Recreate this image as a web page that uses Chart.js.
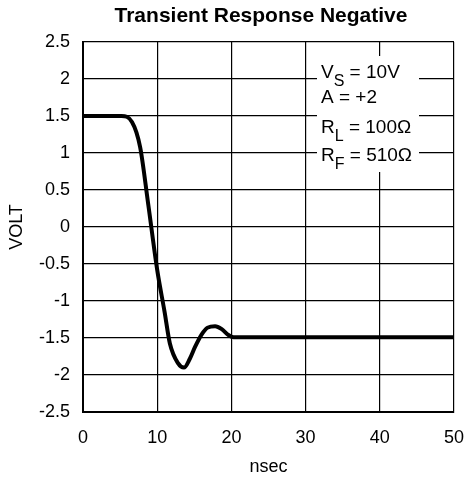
<!DOCTYPE html>
<html>
<head>
<meta charset="utf-8">
<script src="https://cdn.jsdelivr.net/npm/chart.js@4.4.1/dist/chart.umd.min.js"></script>
<style>
  html, body { margin: 0; padding: 0; background: #fff; }
  #wrap { width: 464px; height: 479px; position: relative; }
</style>
</head>
<body>
<div id="wrap"><canvas id="chart" width="464" height="479"></canvas></div>
<script>
// values
const nsec = [0, 5.2, 6.6, 7.7, 8.8, 10.0, 11.0, 11.7, 12.8, 13.6, 14.4, 15.1, 16.0, 16.8, 17.8, 18.7, 19.6, 20.3, 30, 40, 50];
const volt = [1.5, 1.5, 1.42, 1.08, 0.3, -0.58, -1.15, -1.57, -1.84, -1.9, -1.78, -1.62, -1.45, -1.36, -1.34, -1.38, -1.46, -1.49, -1.49, -1.49, -1.49];
const yTicks = [2.5, 2, 1.5, 1, 0.5, 0, -0.5, -1, -1.5, -2, -2.5];
const xTicks = [0, 10, 20, 30, 40, 50];

const chartTitle = "Transient Response Negative";
const noteLines = [
  ["V", "S", " = 10V"],
  ["A = +2", "", ""],
  ["R", "L", " = 100\u03A9"],
  ["R", "F", " = 510\u03A9"]
];

const FONT = "'Liberation Sans', Arial, sans-serif";

// white label box with the test conditions, plus the title
const notePlugin = {
  id: "note",
  afterDatasetsDraw(chart) {
    const ctx = chart.ctx;
    ctx.save();
    ctx.fillStyle = "#fff";
    ctx.fillRect(317, 56, 102, 116);
    ctx.fillStyle = "#000";
    ctx.textBaseline = "alphabetic";
    const baselines = [78, 103, 133, 161];
    noteLines.forEach((parts, i) => {
      let x = 321;
      const y = baselines[i];
      ctx.font = "19px " + FONT;
      ctx.fillText(parts[0], x, y);
      x += ctx.measureText(parts[0]).width;
      if (parts[1]) {
        ctx.font = "16px " + FONT;
        ctx.fillText(parts[1], x, y + 8);
        x += ctx.measureText(parts[1]).width;
      }
      ctx.font = "19px " + FONT;
      ctx.fillText(parts[2], x, y);
    });
    ctx.font = "bold 21px " + FONT;
    ctx.textAlign = "center";
    ctx.fillText(chartTitle, 261, 22);
    ctx.restore();
  }
};

new Chart(document.getElementById("chart"), {
  type: "line",
  data: {
    datasets: [{
      data: nsec.map((x, i) => ({ x: x, y: volt[i] })),
      borderColor: "#000",
      borderWidth: 4,
      pointRadius: 0,
      cubicInterpolationMode: "monotone",
      fill: false
    }]
  },
  options: {
    responsive: false,
    animation: false,
    devicePixelRatio: 1,
    layout: { padding: { top: 42, right: 10, left: 0, bottom: 0 } },
    plugins: {
      legend: { display: false },
      tooltip: { enabled: false },
      title: { display: false }
    },
    scales: {
      x: {
        type: "linear",
        min: 0,
        max: 50,
        afterBuildTicks: (s) => { s.ticks = xTicks.map(v => ({ value: v })); },
        afterFit: (s) => { s.height = 67; s.paddingLeft = 0; s.paddingRight = 0; },
        grid: { color: "#000", lineWidth: 1.2, drawTicks: false },
        border: { color: "#000", width: 2 },
        ticks: { color: "#000", font: { family: FONT, size: 18 }, padding: 15, maxRotation: 0 },
        title: { display: true, text: "nsec", color: "#000", font: { family: FONT, size: 18 }, padding: { top: 7, bottom: 1 } }
      },
      y: {
        min: -2.5,
        max: 2.5,
        afterBuildTicks: (s) => { s.ticks = yTicks.map(v => ({ value: v })); },
        afterFit: (s) => { s.width = 83; s.paddingTop = 0; s.paddingBottom = 0; },
        grid: { color: "#000", lineWidth: 1.2, drawTicks: false },
        border: { color: "#000", width: 2 },
        ticks: { color: "#000", font: { family: FONT, size: 18 }, padding: 13, callback: (v) => String(v) },
        title: { display: true, text: "VOLT", color: "#000", font: { family: FONT, size: 18 }, padding: { top: 6, bottom: 4 } }
      }
    }
  },
  plugins: [notePlugin]
});
</script>
</body>
</html>
